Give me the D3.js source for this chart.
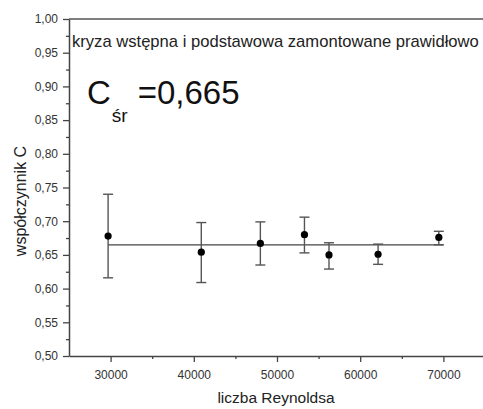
<!DOCTYPE html>
<html>
<head>
<meta charset="utf-8">
<script src="https://cdn.jsdelivr.net/npm/d3@7"></script>
<style>
  body { margin: 0; background: #fff; }
  text { font-family: "Liberation Sans", Arial, sans-serif; }
</style>
</head>
<body>
<div id="chart"></div>
<script>
// data
var reynolds = [29700, 40900, 48000, 53300, 56250, 62150, 69450];
var coeff    = [0.678, 0.654, 0.667, 0.680, 0.650, 0.651, 0.676];
var errUp    = [0.740, 0.698, 0.699, 0.706, 0.668, 0.666, 0.685];
var errDown  = [0.616, 0.609, 0.635, 0.653, 0.629, 0.636, 0.665];
var meanC = 0.665;
var xTicks = [30000, 40000, 50000, 60000, 70000];
var yTicks = [0.50, 0.55, 0.60, 0.65, 0.70, 0.75, 0.80, 0.85, 0.90, 0.95, 1.00];

var width = 483, height = 409;
var margin = {top: 19, right: -2, bottom: 53, left: 69};
var w = width - margin.left - margin.right,
    h = height - margin.top - margin.bottom;

var svg = d3.select("#chart").append("svg")
    .attr("width", width)
    .attr("height", height);

var g = svg.append("g")
    .attr("transform", "translate(" + margin.left + "," + margin.top + ")");

var x = d3.scaleLinear().domain([25000, 75000]).range([0, w]);
var y = d3.scaleLinear().domain([0.5, 1.0]).range([h, 0]);

var fmt = function(d) { return d3.format(".2f")(d).replace(".", ","); };
var axisCol = "#444";

// frame top
g.append("line")
    .attr("x1", 0).attr("x2", w)
    .attr("y1", 0).attr("y2", 0)
    .attr("stroke", "#555").attr("stroke-width", 1.5);

// minor ticks
g.append("g")
    .attr("transform", "translate(0," + h + ")")
    .call(d3.axisBottom(x).tickValues(d3.range(35000, 75000, 10000)).tickSize(3).tickFormat(""))
    .call(function(a) { a.select(".domain").remove(); a.selectAll("line").attr("stroke", axisCol).attr("stroke-width", 1.3); });

g.append("g")
    .call(d3.axisLeft(y).tickValues(d3.range(0.525, 1.0, 0.05)).tickSize(3).tickFormat(""))
    .call(function(a) { a.select(".domain").remove(); a.selectAll("line").attr("stroke", axisCol).attr("stroke-width", 1.3); });

// major axes
var xAxis = g.append("g")
    .attr("transform", "translate(0," + h + ")")
    .call(d3.axisBottom(x).tickValues(xTicks).tickSize(6).tickSizeOuter(0).tickPadding(8).tickFormat(d3.format("d")));

var yAxis = g.append("g")
    .call(d3.axisLeft(y).tickValues(yTicks).tickSize(6).tickSizeOuter(0).tickPadding(5).tickFormat(fmt));

[xAxis, yAxis].forEach(function(a) {
  a.select(".domain").attr("stroke", axisCol).attr("stroke-width", 1.5);
  a.selectAll(".tick line").attr("stroke", axisCol).attr("stroke-width", 1.3);
  a.selectAll(".tick text")
      .attr("fill", "#333")
      .style("font-size", "12px")
      .style("font-family", "'Liberation Sans', Arial, sans-serif");
});

// mean line
g.append("line")
    .attr("x1", x(d3.min(reynolds))).attr("x2", x(70000))
    .attr("y1", y(meanC)).attr("y2", y(meanC))
    .attr("stroke", "#444").attr("stroke-width", 1.3);

// error bars
var pts = reynolds.map(function(r, i) {
  return {x: r, c: coeff[i], hi: errUp[i], lo: errDown[i]};
});

var eb = g.selectAll(".err")
    .data(pts)
  .enter().append("g")
    .attr("class", "err")
    .attr("stroke", "#555")
    .attr("stroke-width", 1.4);

eb.append("line")
    .attr("x1", function(d) { return x(d.x); })
    .attr("x2", function(d) { return x(d.x); })
    .attr("y1", function(d) { return y(d.hi); })
    .attr("y2", function(d) { return y(d.lo); });

eb.append("line")
    .attr("x1", function(d) { return x(d.x) - 5; })
    .attr("x2", function(d) { return x(d.x) + 5; })
    .attr("y1", function(d) { return y(d.hi); })
    .attr("y2", function(d) { return y(d.hi); });

eb.append("line")
    .attr("x1", function(d) { return x(d.x) - 5; })
    .attr("x2", function(d) { return x(d.x) + 5; })
    .attr("y1", function(d) { return y(d.lo); })
    .attr("y2", function(d) { return y(d.lo); });

g.selectAll(".dot")
    .data(pts)
  .enter().append("circle")
    .attr("class", "dot")
    .attr("cx", function(d) { return x(d.x); })
    .attr("cy", function(d) { return y(d.c); })
    .attr("r", 3.6)
    .attr("fill", "#000");

// texts
svg.append("text")
    .attr("x", 72).attr("y", 47)
    .attr("fill", "#222")
    .style("font-size", "16.6px")
    .text("kryza wstępna i podstawowa zamontowane prawidłowo");

var big = svg.append("text")
    .attr("x", 87).attr("y", 104)
    .attr("fill", "#111")
    .style("font-size", "33px");
big.append("tspan").text("C");
big.append("tspan").attr("dy", 18).attr("dx", 1).style("font-size", "19px").text("śr");
big.append("tspan").attr("dy", -18).attr("dx", 10).text("=" + String(meanC).replace(".", ","));

svg.append("text")
    .attr("x", 276).attr("y", 403)
    .attr("text-anchor", "middle")
    .attr("fill", "#222")
    .style("font-size", "15.5px")
    .text("liczba Reynoldsa");

svg.append("text")
    .attr("transform", "translate(26," + 201 + ") rotate(-90)")
    .attr("text-anchor", "middle")
    .attr("fill", "#222")
    .style("font-size", "16px")
    .text("współczynnik C");
</script>
</body>
</html>
